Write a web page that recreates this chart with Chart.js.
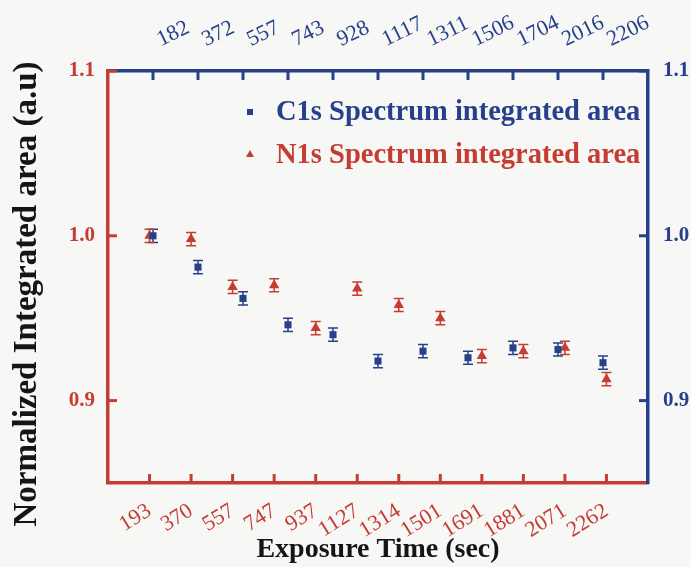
<!DOCTYPE html>
<html>
<head>
<meta charset="utf-8">
<script src="https://cdn.jsdelivr.net/npm/chart.js@4"></script>
<style>
  body { margin: 0; background: #f7f7f6; }
  #wrap { width: 691px; height: 567px; }
</style>
</head>
<body>
<div id="wrap"><canvas id="myChart" width="691" height="567"></canvas></div>
<script>
// exposure times (bottom axis = N1s, top axis = C1s)
var bottomLabels = ['193', '370', '557', '747', '937', '1127', '1314', '1501', '1691', '1881', '2071', '2262'];
var topLabels = ['182', '372', '557', '743', '928', '1117', '1311', '1506', '1704', '2016', '2206'];

var c1sArea = [1.000, 0.981, 0.962, 0.946, 0.940, 0.924, 0.930, 0.926, 0.932, 0.931, 0.923];
var c1sErr = [0.004, 0.004, 0.004, 0.004, 0.004, 0.004, 0.004, 0.004, 0.004, 0.004, 0.004];
var n1sArea = [1.000, 0.998, 0.969, 0.970, 0.944, 0.968, 0.958, 0.950, 0.927, 0.930, 0.932, 0.913];
var n1sErr = [0.004, 0.004, 0.004, 0.004, 0.004, 0.004, 0.004, 0.004, 0.004, 0.004, 0.004, 0.004];

var yTicks = [0.9, 1.0, 1.1];

var RED = '#c43c32';
var BLUE = '#27408b';
var SERIF = "'Liberation Serif', 'Times New Roman', serif";

document.addEventListener('DOMContentLoaded', function () {
    var ctx = document.getElementById('myChart').getContext('2d');

    var c1sPoints = c1sArea.map(function (v, i) { return { x: i + 1, y: v }; });
    var n1sPoints = n1sArea.map(function (v, i) { return { x: i + 1, y: v }; });

    var background = {
        id: 'background',
        beforeDraw: function (chart) {
            var c = chart.ctx;
            c.save();
            c.fillStyle = '#f7f7f6';
            c.fillRect(0, 0, chart.width, chart.height);
            c.restore();
        }
    };

    var errorBars = {
        id: 'errorBars',
        beforeDatasetsDraw: function (chart) {
            var c = chart.ctx;
            chart.data.datasets.forEach(function (ds, di) {
                var meta = chart.getDatasetMeta(di);
                var yScale = chart.scales[meta.yAxisID];
                c.save();
                c.strokeStyle = ds.borderColor;
                c.lineWidth = 1.5;
                meta.data.forEach(function (pt, i) {
                    var v = ds.data[i].y, e = ds.errors[i];
                    var top = yScale.getPixelForValue(v + e);
                    var bot = yScale.getPixelForValue(v - e);
                    c.beginPath();
                    c.moveTo(pt.x, top); c.lineTo(pt.x, bot);
                    c.moveTo(pt.x - 5, top); c.lineTo(pt.x + 5, top);
                    c.moveTo(pt.x - 5, bot); c.lineTo(pt.x + 5, bot);
                    c.stroke();
                });
                c.restore();
            });
        }
    };

    // tick marks point into the plot
    var innerTicks = {
        id: 'innerTicks',
        afterDraw: function (chart) {
            var c = chart.ctx, a = chart.chartArea, len = 9;
            var defs = [
                ['x', RED, function (p) { return [p, a.bottom, p, a.bottom - len]; }],
                ['x2', BLUE, function (p) { return [p, a.top, p, a.top + len]; }],
                ['y', RED, function (p) { return [a.left, p, a.left + len, p]; }],
                ['y2', BLUE, function (p) { return [a.right, p, a.right - len, p]; }]
            ];
            c.save();
            c.lineWidth = 3;
            defs.forEach(function (d) {
                var scale = chart.scales[d[0]];
                c.strokeStyle = d[1];
                scale.ticks.forEach(function (t) {
                    var p = scale.getPixelForValue(t.value);
                    var s = d[2](p);
                    c.beginPath();
                    c.moveTo(s[0], s[1]);
                    c.lineTo(s[2], s[3]);
                    c.stroke();
                });
            });
            c.restore();
        }
    };

    // legend sits inside the plot, y title sits a bit below centre
    var labelsInside = {
        id: 'labelsInside',
        afterDraw: function (chart) {
            var c = chart.ctx;
            c.save();
            c.font = 'bold 28.5px ' + SERIF;
            c.textBaseline = 'middle';
            c.fillStyle = BLUE;
            c.fillRect(247, 109, 6, 6);
            c.fillText('C1s Spectrum integrated area', 276, 113);
            c.fillStyle = RED;
            c.beginPath();
            c.moveTo(250, 150); c.lineTo(254, 157); c.lineTo(246, 157);
            c.closePath();
            c.fill();
            c.fillText('N1s Spectrum integrated area', 276, 156);

            c.translate(27, 294);
            c.rotate(-Math.PI / 2);
            c.textAlign = 'center';
            c.fillStyle = '#151515';
            c.font = 'bold 33px ' + SERIF;
            c.fillText('Normalized Integrated area (a.u)', 0, 0);
            c.restore();
        }
    };

    var myChart = new Chart(ctx, {
        type: 'scatter',
        data: {
            datasets: [{
                label: 'C1s Spectrum integrated area',
                xAxisID: 'x2',
                yAxisID: 'y2',
                data: c1sPoints,
                errors: c1sErr,
                pointStyle: 'rect',
                pointRadius: 5,
                backgroundColor: BLUE,
                borderColor: BLUE,
                borderWidth: 0
            }, {
                label: 'N1s Spectrum integrated area',
                xAxisID: 'x',
                yAxisID: 'y',
                data: n1sPoints,
                errors: n1sErr,
                pointStyle: 'triangle',
                pointRadius: 6,
                backgroundColor: RED,
                borderColor: RED,
                borderWidth: 0
            }]
        },
        options: {
            responsive: false,
            animation: false,
            layout: { padding: 0 },
            plugins: {
                legend: { display: false },
                tooltip: { enabled: false }
            },
            scales: {
                x: {
                    type: 'linear',
                    position: 'bottom',
                    min: 0,
                    max: 13,
                    afterBuildTicks: function (s) {
                        s.ticks = bottomLabels.map(function (l, i) { return { value: i + 1 }; });
                    },
                    afterFit: function (s) { s.height = 84; },
                    grid: { display: false, drawTicks: false },
                    border: { display: true, color: RED, width: 3.5 },
                    ticks: {
                        color: RED,
                        font: { family: SERIF, size: 22 },
                        minRotation: 32,
                        maxRotation: 32,
                        autoSkip: false,
                        padding: 15,
                        callback: function (v) { return bottomLabels[v - 1]; }
                    },
                    title: {
                        display: true,
                        text: 'Exposure Time (sec)',
                        color: '#151515',
                        font: { family: SERIF, size: 28, weight: 'bold' },
                        padding: { top: 0, bottom: 0 }
                    }
                },
                x2: {
                    type: 'linear',
                    position: 'top',
                    min: 0,
                    max: 12,
                    afterBuildTicks: function (s) {
                        s.ticks = topLabels.map(function (l, i) { return { value: i + 1 }; });
                    },
                    afterFit: function (s) { s.height = 71; },
                    grid: { display: false, drawTicks: false },
                    border: { display: true, color: BLUE, width: 3.5 },
                    ticks: {
                        color: BLUE,
                        font: { family: SERIF, size: 22 },
                        minRotation: 26,
                        maxRotation: 26,
                        autoSkip: false,
                        padding: 18,
                        labelOffset: 17,
                        callback: function (v) { return topLabels[v - 1]; }
                    }
                },
                y: {
                    type: 'linear',
                    position: 'left',
                    min: 0.85,
                    max: 1.1,
                    afterBuildTicks: function (s) {
                        s.ticks = yTicks.map(function (v) { return { value: v }; });
                    },
                    afterFit: function (s) { s.width = 108; },
                    grid: { display: false, drawTicks: false },
                    border: { display: true, color: RED, width: 3.5 },
                    ticks: {
                        color: RED,
                        font: { family: SERIF, size: 21, weight: 'bold' },
                        padding: 13,
                        callback: function (v) { return v.toFixed(1); }
                    }
                },
                y2: {
                    type: 'linear',
                    position: 'right',
                    min: 0.85,
                    max: 1.1,
                    afterBuildTicks: function (s) {
                        s.ticks = yTicks.map(function (v) { return { value: v }; });
                    },
                    afterFit: function (s) { s.width = 43; },
                    grid: { display: false, drawTicks: false },
                    border: { display: true, color: BLUE, width: 3.5 },
                    ticks: {
                        color: BLUE,
                        font: { family: SERIF, size: 21, weight: 'bold' },
                        padding: 15,
                        callback: function (v) { return v.toFixed(1); }
                    }
                }
            }
        },
        plugins: [background, errorBars, innerTicks, labelsInside]
    });
});
</script>
</body>
</html>
